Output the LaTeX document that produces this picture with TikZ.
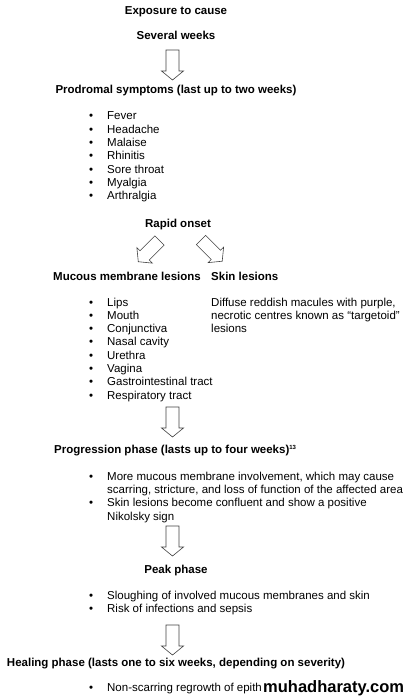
\documentclass[tikz,border=0pt]{standalone}
\usepackage{fontspec}
\setmainfont{Liberation Sans}
\usepackage{tikz}

\newcommand{\bodysize}{\fontsize{11.5}{13.3}\selectfont}

\tikzset{
    title/.style={font=\bodysize\bfseries, anchor=base, inner sep=0pt},
    entry/.style={font=\bodysize, anchor=base west, inner sep=0pt},
    bulleted/.style={entry, execute at begin node={\llap{\textbullet\hspace{14pt}}}},
    arrowline/.style={draw=black!75, line width=0.6pt, line join=miter},
    blockarrow/.pic={
        \draw[arrowline] (-6.5, 0) -- (6.5, 0) -- (6.5, 21) -- (11, 21)
            -- (0, 30) -- (-11, 21) -- (-6.5, 21) -- cycle;
    }
}

\begin{document}
\begin{tikzpicture}[x=1pt, y=-1pt]
    \useasboundingbox (0, 0) rectangle (412, 700);

    \node[title] (exposure) at (176, 15) {Exposure to cause};
    \node[title] (weeks) at (176, 40) {Several weeks};
    \pic at (172.5, 50) {blockarrow};
    \node[title] (prodromal) at (176, 94) {Prodromal symptoms (last up to two weeks)};
    \foreach \t [count=\i] in {Fever, Headache, Malaise, Rhinitis, Sore throat, Myalgia, Arthralgia}
        \node[bulleted] (pro\i) at (107, 120 + 13.3*\i - 13.3) {\t};

    \node[title] (onset) at (178, 228) {Rapid onset};
    \pic[rotate=-45] at (159.5, 240.5) {blockarrow};
    \pic[rotate=45] at (201, 240) {blockarrow};

    \node[title, anchor=base west] (mucous) at (53, 280) {Mucous membrane lesions};
    \node[title, anchor=base west] (skin) at (211, 280) {Skin lesions};
    \foreach \t [count=\i] in {Lips, Mouth, Conjunctiva, Nasal cavity, Urethra, Vagina, Gastrointestinal tract, Respiratory tract}
        \node[bulleted] (muc\i) at (107, 306 + 13.3*\i - 13.3) {\t};
    \node[entry] (skin1) at (211, 306) {Diffuse reddish macules with purple,};
    \node[entry] (skin2) at (211, 319.3) {necrotic centres known as “targetoid”};
    \node[entry] (skin3) at (211, 332.6) {lesions};

    \pic at (172.5, 407) {blockarrow};
    \node[title, anchor=base west] (progression) at (54, 453)
        {Progression phase (lasts up to four weeks)\raisebox{4pt}{\fontsize{6}{6}\selectfont 13}};
    \node[bulleted] (prog1) at (107, 480) {More mucous membrane involvement, which may cause};
    \node[entry] (prog2) at (107, 493.3) {scarring, stricture, and loss of function of the affected area};
    \node[bulleted] (prog3) at (107, 506.6) {Skin lesions become confluent and show a positive};
    \node[entry] (prog4) at (107, 520) {Nikolsky sign};

    \pic at (172.5, 526) {blockarrow};
    \node[title] (peak) at (176, 573) {Peak phase};
    \node[bulleted] (peak1) at (107, 599) {Sloughing of involved mucous membranes and skin};
    \node[bulleted] (peak2) at (107, 612.3) {Risk of infections and sepsis};

    \pic at (172.5, 625) {blockarrow};
    \node[title] (healing) at (176, 666) {Healing phase (lasts one to six weeks, depending on severity)};
    \node[bulleted] (heal1) at (107, 691) {Non-scarring regrowth of epith};
    \node[font=\fontsize{16.5}{16.5}\selectfont\bfseries, anchor=base west, inner sep=0pt] (mark) at (263, 692) {muhadharaty.com};
\end{tikzpicture}
\end{document}
